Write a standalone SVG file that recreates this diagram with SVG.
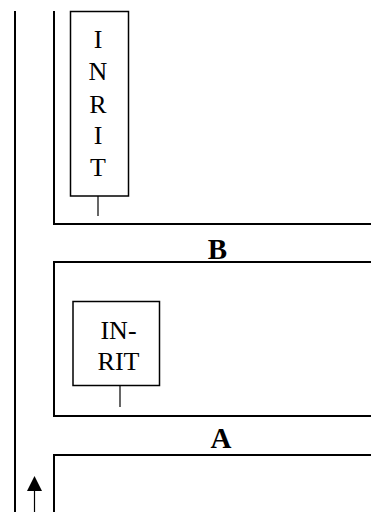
<svg xmlns="http://www.w3.org/2000/svg" width="371" height="512" viewBox="0 0 371 512">
<style>
.ln{stroke:#000;stroke-width:2;fill:none}
.bx{stroke:#000;stroke-width:1.5;fill:#fff}
.st{stroke:#000;stroke-width:1.2}
.t{font-family:"Liberation Serif","Times New Roman",serif;font-size:26px;fill:#000;text-anchor:middle}
.b{font-family:"Liberation Serif","Times New Roman",serif;font-size:29px;font-weight:bold;fill:#000;text-anchor:middle}
</style>
<g id="walls">
<line class="ln" x1="15" y1="11" x2="15" y2="512"/>
<polyline class="ln" points="54,11 54,224 371,224"/>
<polyline class="ln" points="371,262 54,262 54,416 371,416"/>
<polyline class="ln" points="371,455 54,455 54,512"/>
</g>
<g id="connectors">
<line class="st" x1="98" y1="196" x2="98" y2="216"/>
<line class="st" x1="120" y1="385" x2="120" y2="407"/>
<line class="st" x1="34.5" y1="512" x2="34.5" y2="490"/>
<path d="M34.5,476 L27,491 L42,491 Z" fill="#000"/>
</g>
<g id="box-tall">
<rect class="bx" x="70.5" y="11.5" width="58" height="184.5"/>
<text class="t" x="98" y="47.5">I</text>
<text class="t" x="98" y="80">N</text>
<text class="t" x="98" y="112.5">R</text>
<text class="t" x="98" y="144">I</text>
<text class="t" x="98" y="175.5">T</text>
</g>
<g id="box-small">
<rect class="bx" x="73" y="301.5" width="86.5" height="84"/>
<text class="t" x="118.5" y="338.5">IN-</text>
<text class="t" x="118.5" y="370">RIT</text>
</g>
<g id="label-B"><text class="b" x="217.5" y="258.5">B</text></g>
<g id="label-A"><text class="b" x="221" y="448">A</text></g>
</svg>
